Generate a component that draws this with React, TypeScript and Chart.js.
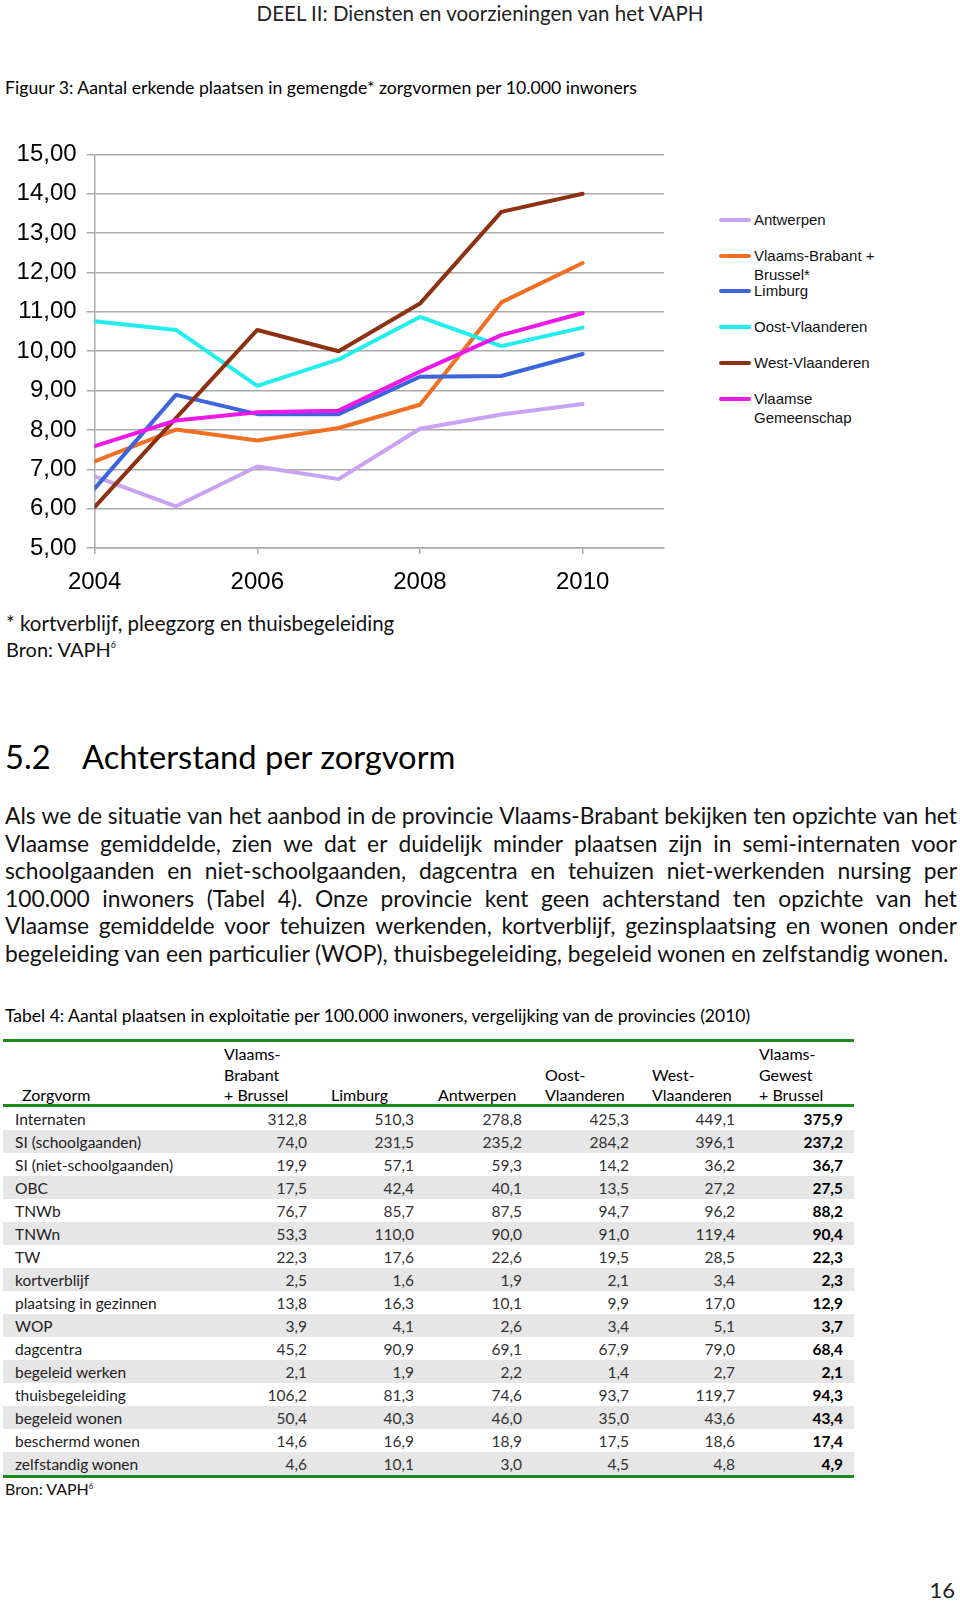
import React, { useEffect, useRef } from 'react';
import { Chart, registerables } from 'chart.js';

Chart.register(...registerables);

// ---------- Chart data ----------
const years = [2004, 2005, 2006, 2007, 2008, 2009, 2010];
const seriesNames = ['Antwerpen', 'Vlaams-Brabant + Brussel*', 'Limburg', 'Oost-Vlaanderen', 'West-Vlaanderen', 'Vlaamse Gemeenschap'];
const legendLines = [['Antwerpen'], ['Vlaams-Brabant +', 'Brussel*'], ['Limburg'], ['Oost-Vlaanderen'], ['West-Vlaanderen'], ['Vlaamse', 'Gemeenschap']];
const antwerpen = [6.82, 6.06, 7.07, 6.75, 8.03, 8.39, 8.66];
const vlaamsBrabant = [7.2, 8.01, 7.73, 8.05, 8.64, 11.24, 12.24];
const limburg = [6.51, 8.89, 8.4, 8.4, 9.35, 9.37, 9.93];
const oostVlaanderen = [10.76, 10.54, 9.12, 9.79, 10.87, 10.13, 10.6];
const westVlaanderen = [6.04, 8.3, 10.54, 10.0, 11.21, 13.54, 14.0];
const vlaamseGemeenschap = [7.59, 8.24, 8.45, 8.49, 9.48, 10.41, 10.97];
const seriesColors = ['#c9a3f2', '#f07023', '#3c64dc', '#22eeee', '#8c3212', '#ee18e8'];
const xTickYears = [2004, 2006, 2008, 2010];
const xMin = 2004;
const xMax = 2011;
const yMin = 5;
const yMax = 15;

// ---------- Table data ----------
const tableHeaders = [['Zorgvorm'], ['Vlaams-', 'Brabant', '+ Brussel'], ['Limburg'], ['Antwerpen'], ['Oost-', 'Vlaanderen'], ['West-', 'Vlaanderen'], ['Vlaams-', 'Gewest', '+ Brussel']];
const zorgvormen = ['Internaten', 'SI (schoolgaanden)', 'SI (niet-schoolgaanden)', 'OBC', 'TNWb', 'TNWn', 'TW', 'kortverblijf', 'plaatsing in gezinnen', 'WOP', 'dagcentra', 'begeleid werken', 'thuisbegeleiding', 'begeleid wonen', 'beschermd wonen', 'zelfstandig wonen'];
const colVlaamsBrabant = [312.8, 74.0, 19.9, 17.5, 76.7, 53.3, 22.3, 2.5, 13.8, 3.9, 45.2, 2.1, 106.2, 50.4, 14.6, 4.6];
const colLimburg = [510.3, 231.5, 57.1, 42.4, 85.7, 110.0, 17.6, 1.6, 16.3, 4.1, 90.9, 1.9, 81.3, 40.3, 16.9, 10.1];
const colAntwerpen = [278.8, 235.2, 59.3, 40.1, 87.5, 90.0, 22.6, 1.9, 10.1, 2.6, 69.1, 2.2, 74.6, 46.0, 18.9, 3.0];
const colOostVlaanderen = [425.3, 284.2, 14.2, 13.5, 94.7, 91.0, 19.5, 2.1, 9.9, 3.4, 67.9, 1.4, 93.7, 35.0, 17.5, 4.5];
const colWestVlaanderen = [449.1, 396.1, 36.2, 27.2, 96.2, 119.4, 28.5, 3.4, 17.0, 5.1, 79.0, 2.7, 119.7, 43.6, 18.6, 4.8];
const colVlaamsGewest = [375.9, 237.2, 36.7, 27.5, 88.2, 90.4, 22.3, 2.3, 12.9, 3.7, 68.4, 2.1, 94.3, 43.4, 17.4, 4.9];

// ---------- Text ----------
const pageHeader = 'DEEL II: Diensten en voorzieningen van het VAPH';
const figureTitle = 'Figuur 3: Aantal erkende plaatsen in gemengde* zorgvormen per 10.000 inwoners';
const footnote = '* kortverblijf, pleegzorg en thuisbegeleiding';
const sectionNumber = '5.2';
const sectionTitle = 'Achterstand per zorgvorm';
const bodyLines = [
  'Als we de situatie van het aanbod in de provincie Vlaams-Brabant bekijken ten opzichte van het',
  'Vlaamse gemiddelde, zien we dat er duidelijk minder plaatsen zijn in semi-internaten voor',
  'schoolgaanden en niet-schoolgaanden, dagcentra en tehuizen niet-werkenden nursing per',
  '100.000 inwoners (Tabel 4). Onze provincie kent geen achterstand ten opzichte van het',
  'Vlaamse gemiddelde voor tehuizen werkenden, kortverblijf, gezinsplaatsing en wonen onder',
  'begeleiding van een particulier (WOP), thuisbegeleiding, begeleid wonen en zelfstandig wonen.',
];
const tableTitle = 'Tabel 4: Aantal plaatsen in exploitatie per 100.000 inwoners, vergelijking van de provincies (2010)';
const pageNumber = '16';

const docFont = 'Lato, "Open Sans", sans-serif';
const chartFont = '"Liberation Sans", Arial, sans-serif';
const gridColor = '#aaaaaa';
const green = '#1c8a1c';

const fmt1 = (v: number) => v.toFixed(1).replace('.', ',');

function TextAt(props: { x: number; cy: number; size: number; lh?: number; weight?: number; color?: string; family?: string; children: React.ReactNode; align?: 'left' | 'right' | 'center'; width?: number }) {
  const lh = props.lh ?? Math.round(props.size * 1.25);
  const style: React.CSSProperties = {
    position: 'absolute',
    top: props.cy - lh / 2,
    fontSize: props.size,
    lineHeight: lh + 'px',
    fontFamily: props.family ?? docFont,
    fontWeight: props.weight ?? 400,
    color: props.color ?? '#111',
    whiteSpace: 'nowrap',
  };
  if (props.align === 'right') {
    style.right = 960 - props.x;
    style.textAlign = 'right';
  } else if (props.align === 'center') {
    style.left = props.x - (props.width ?? 0) / 2;
    style.width = props.width;
    style.textAlign = 'center';
  } else {
    style.left = props.x;
  }
  return <div style={style}>{props.children}</div>;
}

function LineChart() {
  const ref = useRef<HTMLCanvasElement>(null);
  useEffect(() => {
    const all = [antwerpen, vlaamsBrabant, limburg, oostVlaanderen, westVlaanderen, vlaamseGemeenschap];
    const chart = new Chart(ref.current as HTMLCanvasElement, {
      type: 'line',
      data: {
        datasets: all.map((vals, i) => ({
          label: seriesNames[i],
          data: years.map((yr, j) => ({ x: yr, y: vals[j] })),
          borderColor: seriesColors[i],
          backgroundColor: seriesColors[i],
          borderWidth: 4,
          pointRadius: 0,
          tension: 0,
          order: all.length - 1 - i,
          borderJoinStyle: 'round' as const,
          borderCapStyle: 'round' as const,
        })),
      },
      options: {
        animation: false,
        responsive: false,
        devicePixelRatio: 1,
        layout: { padding: { top: 22.7, right: 16, left: 0, bottom: 0 } },
        plugins: { legend: { display: false }, tooltip: { enabled: false } },
        scales: {
          x: {
            type: 'linear',
            min: xMin,
            max: xMax,
            afterBuildTicks: (s: any) => {
              s.ticks = xTickYears.map((v) => ({ value: v }));
            },
            afterFit: (s: any) => {
              s.height = 52;
            },
            grid: { drawOnChartArea: false, drawTicks: true, tickLength: 6, color: gridColor, lineWidth: 1.5 },
            border: { color: gridColor, width: 1.5 },
            ticks: {
              color: '#000',
              font: { family: chartFont, size: 24 },
              padding: 14,
              maxRotation: 0,
              autoSkip: false,
              callback: (v: any) => String(v),
            },
          },
          y: {
            min: yMin,
            max: yMax,
            afterFit: (s: any) => {
              s.width = 94.6;
            },
            grid: { color: gridColor, lineWidth: 1.5, tickLength: 8 },
            border: { color: gridColor, width: 1.5 },
            ticks: {
              stepSize: 1,
              color: '#000',
              padding: 10,
              font: { family: chartFont, size: 24 },
              callback: (v: any) => Number(v).toFixed(2).replace('.', ','),
            },
          },
        },
      },
    });
    return () => chart.destroy();
  }, []);
  return <canvas ref={ref} width={680} height={470} style={{ position: 'absolute', left: 0, top: 130, width: 680, height: 470 }} />;
}

function Legend() {
  const centers = [220, 255.7, 291.3, 327, 362.7, 398.5];
  return (
    <>
      {legendLines.map((lines, i) => (
        <React.Fragment key={i}>
          <div style={{ position: 'absolute', left: 719, top: centers[i] - 2, width: 32, height: 4, background: seriesColors[i], borderRadius: 2 }} />
          {lines.map((ln, k) => (
            <TextAt key={k} x={754} cy={centers[i] + k * 19.5} size={15} lh={18} family={chartFont} color="#111">
              {ln}
            </TextAt>
          ))}
        </React.Fragment>
      ))}
    </>
  );
}

function JustifiedLine(props: { text: string; top: number; last?: boolean }) {
  const words = props.text.split(' ');
  return (
    <div
      style={{
        position: 'absolute',
        left: 5,
        width: 952,
        top: props.top,
        height: 28,
        lineHeight: '28px',
        fontSize: 22.8,
        fontFamily: docFont,
        color: '#111',
        display: 'flex',
        justifyContent: props.last ? 'flex-start' : 'space-between',
        whiteSpace: 'pre',
      }}
    >
      {props.last ? <span>{props.text}</span> : words.map((w, i) => <span key={i}>{w}</span>)}
    </div>
  );
}

function DataTable() {
  const cols = [colVlaamsBrabant, colLimburg, colAntwerpen, colOostVlaanderen, colWestVlaanderen, colVlaamsGewest];
  const headerLefts = [22, 224, 331, 438, 545, 652, 759];
  const valueRights = [307, 414, 522, 629, 735, 843];
  const rowTop0 = 1107;
  const rowH = 23;
  const headerLastCy = 1095;
  const headerLh = 20.5;
  return (
    <>
      <div style={{ position: 'absolute', left: 3, width: 851, top: 1039, height: 3, background: green }} />
      {tableHeaders.map((lines, c) =>
        lines.map((ln, k) => (
          <TextAt key={c + '-' + k} x={headerLefts[c]} cy={headerLastCy - (lines.length - 1 - k) * headerLh} size={16} lh={20} color="#000">
            {ln}
          </TextAt>
        ))
      )}
      <div style={{ position: 'absolute', left: 3, width: 851, top: 1104, height: 2.5, background: green }} />
      {zorgvormen.map((name, r) => (
        <React.Fragment key={r}>
          {r % 2 === 1 && <div style={{ position: 'absolute', left: 3, width: 851, top: rowTop0 + r * rowH, height: rowH, background: '#e6e6e6' }} />}
          <TextAt x={15} cy={rowTop0 + r * rowH + rowH / 2} size={15.5} lh={20} color="#222">
            {name}
          </TextAt>
          {cols.map((col, c) => (
            <TextAt key={c} x={valueRights[c]} align="right" cy={rowTop0 + r * rowH + rowH / 2} size={15.5} lh={20} weight={c === cols.length - 1 ? 700 : 400} color={c === cols.length - 1 ? '#000' : '#333'}>
              {fmt1(col[r])}
            </TextAt>
          ))}
        </React.Fragment>
      ))}
      <div style={{ position: 'absolute', left: 3, width: 851, top: 1475, height: 3, background: green }} />
    </>
  );
}

export default function App() {
  return (
    <div style={{ position: 'absolute', left: 0, top: 0, width: 960, height: 1601, background: '#fff', overflow: 'hidden' }}>
      <TextAt x={480} width={700} align="center" cy={13} size={20.5} lh={24} color="#222">
        {pageHeader}
      </TextAt>
      <TextAt x={5} cy={88} size={17.7} lh={22} color="#000">
        {figureTitle}
      </TextAt>
      <LineChart />
      <Legend />
      <TextAt x={6} cy={623} size={20.5} lh={24}>
        {footnote}
      </TextAt>
      <TextAt x={6} cy={649} size={20} lh={24}>
        Bron: VAPH<sup style={{ fontSize: 9, verticalAlign: 'top', position: 'relative', top: -4 }}>6</sup>
      </TextAt>
      <TextAt x={5} cy={757} size={32.7} lh={40} color="#000">
        {sectionNumber}
      </TextAt>
      <TextAt x={82} cy={757} size={32.7} lh={40} color="#000">
        {sectionTitle}
      </TextAt>
      {bodyLines.map((ln, i) => (
        <JustifiedLine key={i} text={ln} top={801 + i * 27.6} last={i === bodyLines.length - 1} />
      ))}
      <TextAt x={5} cy={1016} size={17.5} lh={22} color="#000">
        {tableTitle}
      </TextAt>
      <DataTable />
      <TextAt x={5} cy={1489} size={16} lh={20}>
        Bron: VAPH<sup style={{ fontSize: 8, verticalAlign: 'top', position: 'relative', top: -3 }}>6</sup>
      </TextAt>
      <TextAt x={955} align="right" cy={1590} size={22} lh={26} color="#222">
        {pageNumber}
      </TextAt>
    </div>
  );
}
